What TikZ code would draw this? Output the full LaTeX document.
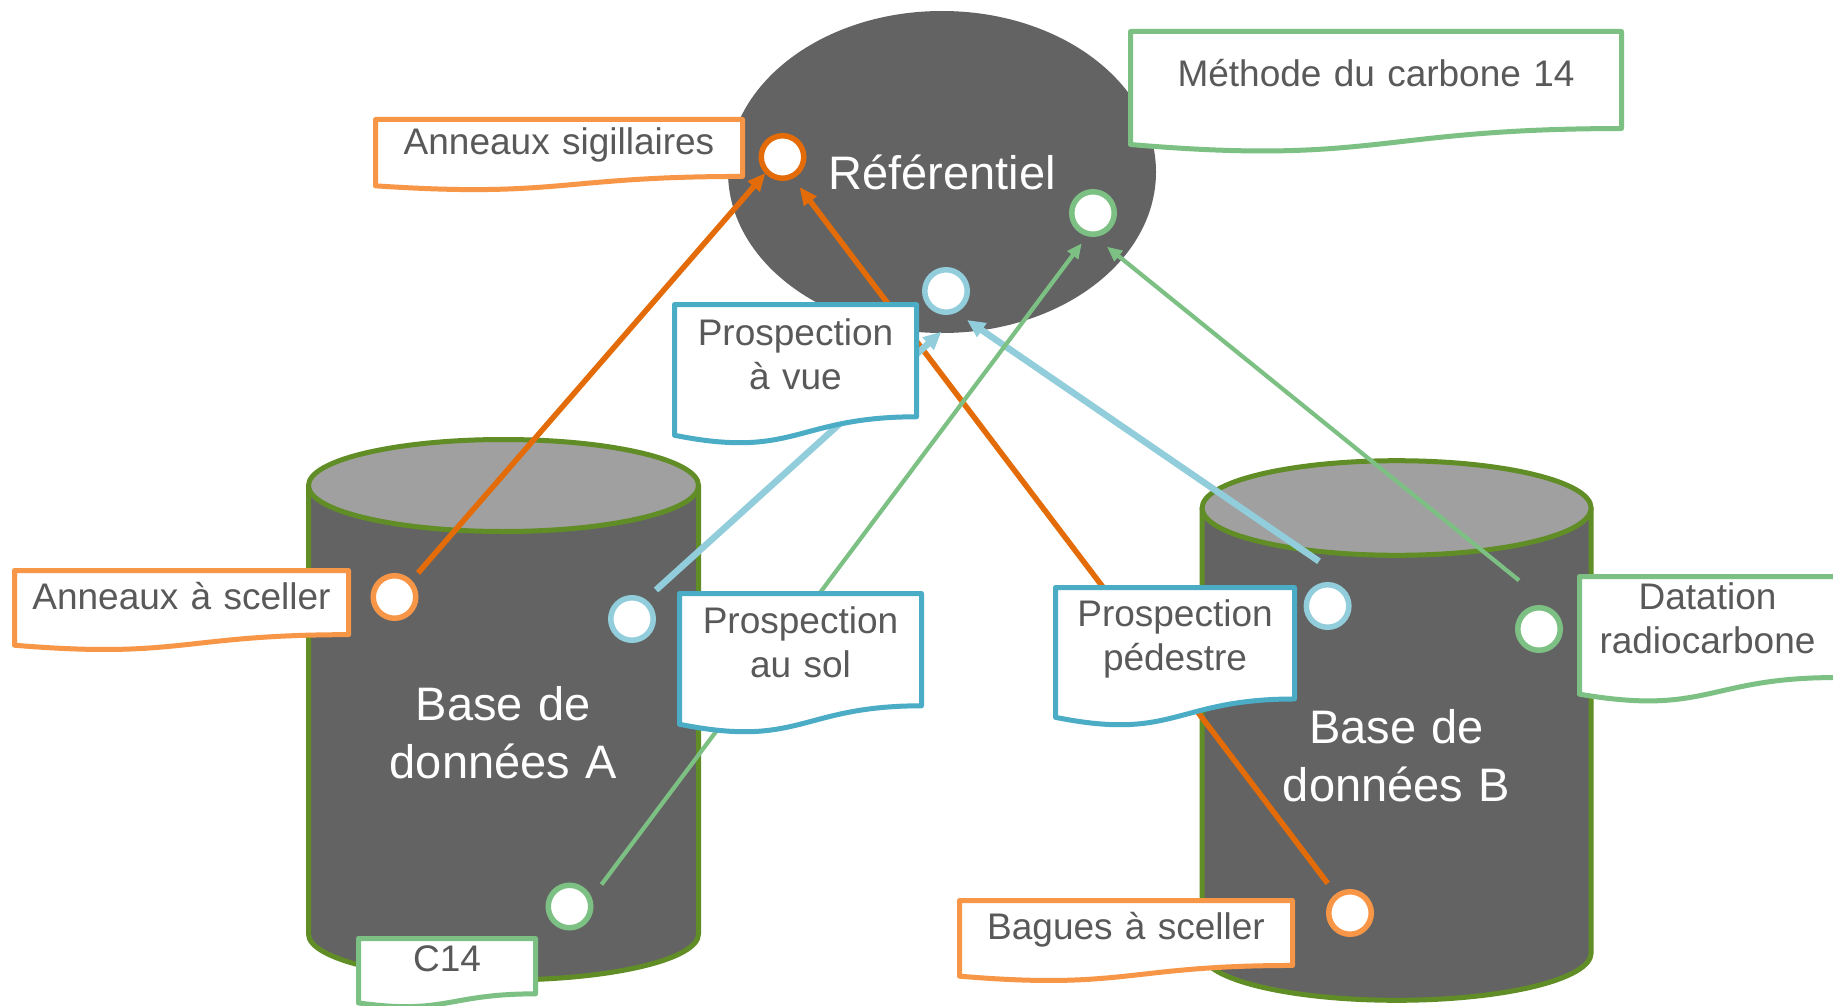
\documentclass[tikz,border=0pt]{standalone}
\usepackage{fontspec}
\setmainfont{Liberation Sans}
\usetikzlibrary{arrows.meta,shapes.geometric,calc}
\definecolor{dg}{HTML}{636363}
\definecolor{lg}{HTML}{A0A0A0}
\definecolor{cylg}{HTML}{618D26}
\definecolor{orL}{HTML}{F79646}
\definecolor{orD}{HTML}{E36C09}
\definecolor{blD}{HTML}{4BACC6}
\definecolor{blL}{HTML}{92CDDC}
\definecolor{grL}{HTML}{7CC183}
\definecolor{txt}{HTML}{595959}
\newcommand\docbox[8]{%
 \pgfmathsetmacro\dbl{#2+2.5}%
 \pgfmathsetmacro\dbr{#2+#4-2.5}%
 \pgfmathsetmacro\dbtop{#3+2.5}%
 \pgfmathsetmacro\dbh{#5-5}%
 \pgfmathsetmacro\dbm{#2+#4/2}%
 \pgfmathsetmacro\dba{\dbtop+0.802*\dbh}%
 \pgfmathsetmacro\dbb{\dbtop+1.1075*\dbh}%
 \pgfmathsetmacro\dbc{\dbtop+0.934*\dbh}%
 \pgfmathsetmacro\dbs{#3+#8}%
 \draw[boxline,draw=#6] (\dbl,\dbtop) -- (\dbr,\dbtop) -- (\dbr,\dba) .. controls (\dbm,\dba) and (\dbm,\dbb) .. (\dbl,\dbc) -- cycle;
 \node[lbl, text width=#4pt, anchor=base] (#1) at (\dbm,\dbs) {#7};
}
\newcommand\dbcyl[5]{% cx, topY, botY, rx, ry
 \fill[dg] ({#1-#4},#2) -- ({#1-#4},#3) arc[start angle=180, end angle=0, x radius=#4, y radius=#5] -- ({#1+#4},#2) -- cycle;
 \draw[cyl] ({#1-#4},#2) -- ({#1-#4},#3) arc[start angle=180, end angle=0, x radius=#4, y radius=#5] -- ({#1+#4},#2);
 \draw[cyl, fill=lg] (#1,#2) ellipse[x radius=#4, y radius=#5];
}
\begin{document}
\begin{tikzpicture}[x=1pt,y=-1pt,
  port/.style={circle, fill=white, line width=5.5pt, minimum size=42.5pt, inner sep=0pt},
  lbl/.style={text=txt, font=\fontsize{37}{44}\selectfont, align=center, inner sep=0pt},
  big/.style={text=white, font=\fontsize{47}{58}\selectfont, align=center, inner sep=0pt},
  boxline/.style={fill=white, line width=5pt, line join=round},
  cyl/.style={draw=cylg, line width=5pt},
  arrO/.style={draw=orD, line width=5.5pt, -{Triangle[length=18pt,width=15pt]}},
  arrB/.style={draw=blL, line width=6.5pt, -{Triangle[length=18pt,width=16pt]}},
  arrG/.style={draw=grL, line width=4.2pt, -{Triangle[length=15pt,width=13pt]}}
]
\useasboundingbox (0,0) rectangle (1833,1006);
\fill[white] (0,0) rectangle (1833,1006);

% Referentiel
\node[ellipse, fill=dg, minimum width=428pt, minimum height=322pt, inner sep=0pt,
      text=white, font=\fontsize{47}{58}\selectfont] (ref) at (942,172) {Référentiel};

% cylinders
\dbcyl{503.5}{485.5}{934}{195}{46}
\dbcyl{1396.6}{508}{953}{194.5}{47.3}
\node[big, text width=380pt, anchor=base] (dbA) at (503.5,720.8) {Base de\\données A};
\node[big, text width=380pt, anchor=base] (dbB) at (1396.6,743.3) {Base de\\données B};

% ports
\node[port, draw=orD] (pRo) at (782.5,157) {};
\node[port, draw=blL] (pRb) at (946,291) {};
\node[port, draw=grL] (pRg) at (1093,213) {};
\node[port, draw=orL] (pAo) at (394.5,597) {};
\node[port, draw=blL] (pAb) at (632,619) {};
\node[port, draw=grL] (pAg) at (569.5,906.5) {};
\node[port, draw=blL] (pBb) at (1327.6,606) {};
\node[port, draw=grL] (pBg) at (1539,629) {};
\node[port, draw=orL] (pBo) at (1350,913) {};

% connectors
\draw[arrO] ($(pAo)+(23.5,-24)$) -- ($(pRo)+(-17,16)$);
\draw[arrO] ($(pBo)+(-22.3,-29.6)$) -- ($(pRo)+(17,30)$);
\draw[arrB] ($(pAb)+(24,-29)$) -- ($(pRb)+(-4.6,40.7)$);
\draw[arrB] ($(pBb)+(-8.6,-44.7)$) -- ($(pRb)+(21,29)$);
\draw[arrG] ($(pAg)+(32,-22)$) -- ($(pRg)+(-11.3,30.3)$);
\draw[arrG] ($(pBg)+(-20,-48.6)$) -- ($(pRg)+(14,33.7)$);

% labels
\docbox{lSig}{373}{117}{372}{76}{orL}{Anneaux sigillaires}{37}
\docbox{lMet}{1128}{29}{496}{126}{grL}{Méthode du carbone 14}{58}
\docbox{lVue}{672}{302}{247}{145}{blD}{Prospection\\à vue}{43}
\docbox{lSce}{12}{568}{339}{85}{orL}{Anneaux à sceller}{41}
\docbox{lSol}{677}{591}{247}{145}{blD}{Prospection\\au sol}{42}
\docbox{lC}{356}{936}{182}{74}{grL}{C14}{35}
\docbox{lPed}{1053}{585}{244}{144}{blD}{Prospection\\pédestre}{41}
\docbox{lDat}{1577}{574}{261}{131}{grL}{Datation\\radiocarbone}{35}
\docbox{lBag}{957}{898}{338}{86}{orL}{Bagues à sceller}{41}
\end{tikzpicture}
\end{document}
